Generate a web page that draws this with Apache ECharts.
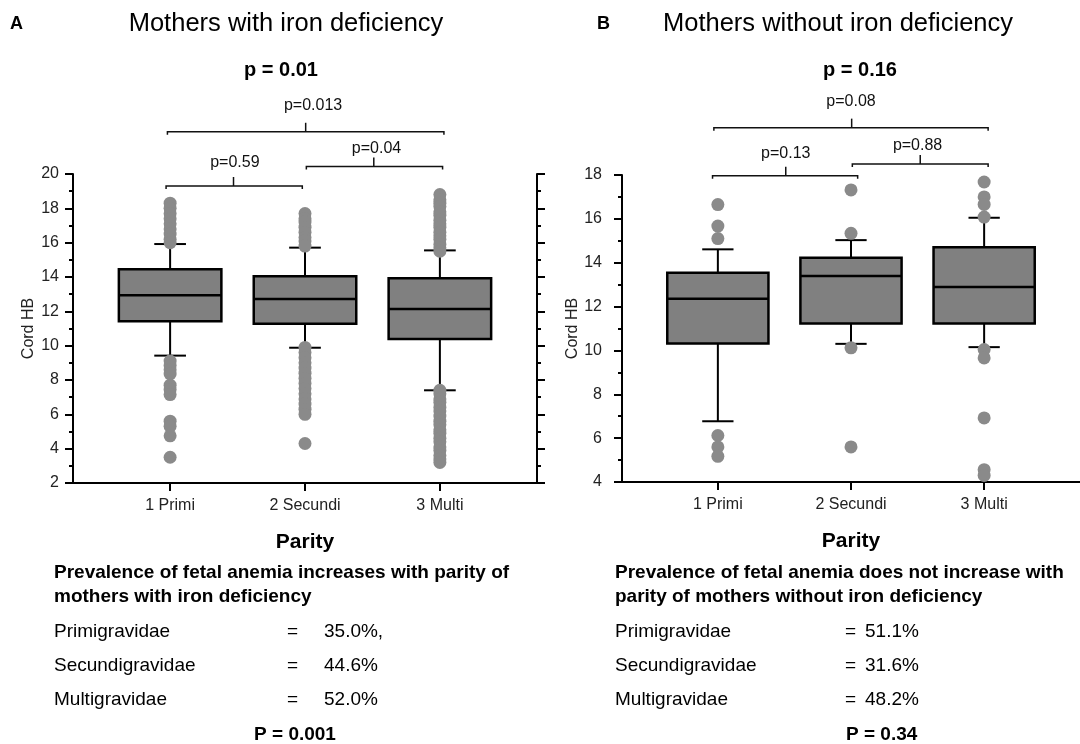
<!DOCTYPE html>
<html>
<head>
<meta charset="utf-8">
<script src="https://cdn.jsdelivr.net/npm/echarts@6/dist/echarts.min.js"></script>
<style>
html,body{margin:0;padding:0;background:#fff;}
#chart{width:1080px;height:744px;}
</style>
</head>
<body>
<div id="chart"></div>
<script>
// ---------------- data ----------------
const categories = ['1 Primi', '2 Secundi', '3 Multi'];

// box stats: [lowerWhisker, Q1, median, Q3, upperWhisker]
const boxesA = [
  [9.42, 11.42, 12.93, 14.45, 15.92],
  [9.88, 11.28, 12.72, 14.04, 15.71],
  [7.40, 10.39, 12.13, 13.92, 15.55]
];
const boxesB = [
  [6.77, 10.32, 12.36, 13.54, 14.61],
  [10.30, 11.23, 13.39, 14.23, 15.03],
  [10.15, 11.23, 12.89, 14.70, 16.05]
];

// outliers per category
const outliersA1 = [18.3, 18.0, 17.7, 17.4, 17.1, 16.8, 16.5, 16.2, 16.0, 9.1, 8.85, 8.6, 8.35, 7.7, 7.45, 7.15, 5.6, 5.3, 4.75, 3.5];
const outliersA2 = [17.7, 17.4, 17.2, 16.9, 16.6, 16.3, 16.1, 15.8, 9.9, 9.6, 9.3, 9.0, 8.7, 8.4, 8.1, 7.8, 7.5, 7.2, 6.9, 6.6, 6.3, 6.0, 4.3];
const outliersA3 = [18.8, 18.5, 18.3, 18.1, 17.8, 17.6, 17.3, 17.1, 16.9, 16.6, 16.4, 16.2, 15.9, 15.7, 15.5,
                    7.4, 7.2, 6.9, 6.7, 6.4, 6.2, 5.9, 5.6, 5.4, 5.1, 4.9, 4.6, 4.4, 4.1, 3.9, 3.6, 3.4, 3.2];
const outliersB1 = [16.65, 15.67, 15.1, 6.12, 5.6, 5.17];
const outliersB2 = [17.32, 15.34, 10.12, 5.6];
const outliersB3 = [17.68, 17.0, 16.66, 16.08, 10.04, 9.66, 6.92, 4.56, 4.3];

// y axis ranges / ticks
const yRangeA = [2, 20];
const yRangeB = [4, 18];
const yInterval = 2;

// comparison brackets: [x1, x2, xTick, xText, yLine, yText]
const bracketsA = [
  [0.98, 3.03, 2.005, 2.06, 22.46, 23.96],
  [0.97, 1.98, 1.47, 1.48, 19.30, 20.68],
  [2.01, 3.02, 2.51, 2.53, 20.43, 21.50]
];
const bracketLabelsA = ['p=0.013', 'p=0.59', 'p=0.04'];
const bracketsB = [
  [0.97, 3.03, 2.005, 2.0, 20.16, 21.34],
  [0.96, 2.05, 1.51, 1.51, 17.97, 18.96],
  [2.01, 3.03, 2.52, 2.50, 18.50, 19.34]
];
const bracketLabelsB = ['p=0.08', 'p=0.13', 'p=0.88'];

// texts
const panelLetters = ['A', 'B'];
const panelTitles = ['Mothers with iron deficiency', 'Mothers without iron deficiency'];
const overallP = ['p = 0.01', 'p = 0.16'];
const summaryHeadA = ['Prevalence of fetal anemia increases with parity of', 'mothers with iron deficiency'];
const summaryHeadB = ['Prevalence of fetal anemia does not increase with', 'parity of mothers without iron deficiency'];
const groupNames = ['Primigravidae', 'Secundigravidae', 'Multigravidae'];
const prevalenceA = ['35.0%,', '44.6%', '52.0%'];
const prevalenceB = ['51.1%', '31.6%', '48.2%'];
const summaryPA = 'P = 0.001';
const summaryPB = 'P = 0.34';

// ---------------- rendering ----------------
const FONT = '"Liberation Sans", Arial, Helvetica, sans-serif';
const BOX_W = 0.76;
const CAP_W = 0.235;

function renderBox(params, api) {
  const x = api.value(0);
  const lo = api.coord([x, api.value(1)]);
  const q1 = api.coord([x, api.value(2)]);
  const md = api.coord([x, api.value(3)]);
  const q3 = api.coord([x, api.value(4)]);
  const hi = api.coord([x, api.value(5)]);
  const bw = api.size([BOX_W, 0])[0];
  const cw = api.size([CAP_W, 0])[0];
  const cx = lo[0];
  const st = { stroke: '#000', lineWidth: 2, fill: null };
  return {
    type: 'group',
    children: [
      { type: 'line', shape: { x1: cx, y1: q1[1], x2: cx, y2: lo[1] }, style: st },
      { type: 'line', shape: { x1: cx, y1: q3[1], x2: cx, y2: hi[1] }, style: st },
      { type: 'line', shape: { x1: cx - cw / 2, y1: lo[1], x2: cx + cw / 2, y2: lo[1] }, style: st },
      { type: 'line', shape: { x1: cx - cw / 2, y1: hi[1], x2: cx + cw / 2, y2: hi[1] }, style: st },
      { type: 'rect', shape: { x: cx - bw / 2, y: q3[1], width: bw, height: q1[1] - q3[1] },
        style: { fill: '#808080', stroke: '#000', lineWidth: 2.5 } },
      { type: 'line', shape: { x1: cx - bw / 2, y1: md[1], x2: cx + bw / 2, y2: md[1] }, style: { stroke: '#000', lineWidth: 2.5 } }
    ]
  };
}

function makeBracketRenderer(labels) {
  return function (params, api) {
    const x1 = api.value(0), x2 = api.value(1), xt = api.value(2), xl = api.value(3);
    const yl = api.value(4), yt = api.value(5);
    const a = api.coord([x1, yl]);
    const b = api.coord([x2, yl]);
    const t = api.coord([xt, yl]);
    const tl = api.coord([xl, yt]);
    const st = { stroke: '#111', lineWidth: 1.5, fill: null };
    return {
      type: 'group',
      children: [
        { type: 'polyline', shape: { points: [[a[0], a[1] + 3], [a[0], a[1]], [b[0], b[1]], [b[0], b[1] + 3]] }, style: st },
        { type: 'line', shape: { x1: t[0], y1: t[1], x2: t[0], y2: t[1] - 9 }, style: st },
        { type: 'text', x: tl[0], y: tl[1],
          style: { text: labels[params.dataIndex], fill: '#111', font: '16px ' + FONT, align: 'center', verticalAlign: 'middle' } }
      ]
    };
  };
}

function boxData(boxes) {
  return boxes.map((b, i) => [i + 1].concat(b));
}
function outlierData(lists) {
  const out = [];
  lists.forEach((l, i) => l.forEach(v => out.push([i + 1, v])));
  return out;
}

function xAxisCfg(gridIndex) {
  return {
    type: 'value', gridIndex, min: 0.28, max: 3.72,
    name: 'Parity', nameLocation: 'middle', nameGap: 49,
    nameTextStyle: { fontFamily: FONT, fontSize: 21, fontWeight: 'bold', color: '#000' },
    axisLine: { show: true, lineStyle: { color: '#000', width: 2 } },
    axisTick: { show: true, customValues: [1, 2, 3], length: 8, lineStyle: { color: '#000', width: 2 } },
    axisLabel: { show: true, customValues: [1, 2, 3], margin: 15, fontFamily: FONT, fontSize: 16, color: '#222',
      formatter: v => categories[Math.round(v) - 1] || '' },
    splitLine: { show: false }
  };
}

function yAxisCfg(gridIndex, range, opts) {
  return Object.assign({
    type: 'value', gridIndex, min: range[0], max: range[1], interval: yInterval,
    name: 'Cord HB', nameLocation: 'middle', nameGap: 36,
    nameTextStyle: { fontFamily: FONT, fontSize: 16, color: '#222' },
    axisLine: { show: true, onZero: false, lineStyle: { color: '#000', width: 2 } },
    axisTick: { show: true, length: 8, lineStyle: { color: '#000', width: 2 } },
    minorTick: { show: true, splitNumber: 2, length: 4, lineStyle: { color: '#000', width: 2 } },
    axisLabel: { show: true, margin: 14, fontFamily: FONT, fontSize: 16, color: '#222' },
    splitLine: { show: false }
  }, opts || {});
}

const textStyleBase = { fontFamily: FONT, fill: '#000' };
function txt(x, y, text, size, weight, align) {
  return { type: 'text', x, y, style: Object.assign({}, textStyleBase, {
    text, fontSize: size, fontWeight: weight || 'normal', align: align || 'left', verticalAlign: 'middle' }) };
}

const graphics = [
  txt(10, 24, panelLetters[0], 18, 'bold'),
  txt(597, 24, panelLetters[1], 18, 'bold'),
  txt(286, 24, panelTitles[0], 25.5, 'normal', 'center'),
  txt(838, 24, panelTitles[1], 25.5, 'normal', 'center'),
  txt(281, 70, overallP[0], 20, 'bold', 'center'),
  txt(860, 70, overallP[1], 20, 'bold', 'center'),
  txt(54, 573, summaryHeadA[0], 19, 'bold'),
  txt(54, 597, summaryHeadA[1], 19, 'bold'),
  txt(615, 573, summaryHeadB[0], 19, 'bold'),
  txt(615, 597, summaryHeadB[1], 19, 'bold'),
  txt(295, 735, summaryPA, 19, 'bold', 'center'),
  txt(846, 735, summaryPB, 19, 'bold', 'left')
];
const rowY = [632, 666, 700];
groupNames.forEach((g, i) => {
  graphics.push(txt(54, rowY[i], g, 19));
  graphics.push(txt(287, rowY[i], '=', 19));
  graphics.push(txt(324, rowY[i], prevalenceA[i], 19));
  graphics.push(txt(615, rowY[i], g, 19));
  graphics.push(txt(845, rowY[i], '=', 19));
  graphics.push(txt(865, rowY[i], prevalenceB[i], 19));
});

const chart = echarts.init(document.getElementById('chart'), null, { renderer: 'canvas' });
chart.setOption({
  animation: false,
  backgroundColor: '#fff',
  textStyle: { fontFamily: FONT },
  grid: [
    { left: 73, top: 174, width: 464, height: 309 },
    { left: 622, top: 175, width: 462, height: 307 }
  ],
  xAxis: [xAxisCfg(0), xAxisCfg(1)],
  yAxis: [
    yAxisCfg(0, yRangeA),
    yAxisCfg(0, yRangeA, { position: 'right', name: '', axisLabel: { show: false } }),
    yAxisCfg(1, yRangeB, { axisLabel: { show: true, margin: 20, fontFamily: FONT, fontSize: 16, color: '#222' } })
  ],
  series: [
    { type: 'custom', xAxisIndex: 0, yAxisIndex: 0, renderItem: renderBox, encode: { x: 0, y: [1, 2, 3, 4, 5] }, data: boxData(boxesA), z: 2 },
    { type: 'scatter', xAxisIndex: 0, yAxisIndex: 0, data: outlierData([outliersA1, outliersA2, outliersA3]),
      symbolSize: 13, itemStyle: { color: '#8a8a8a', opacity: 1 }, z: 3 },
    { type: 'custom', xAxisIndex: 0, yAxisIndex: 0, renderItem: makeBracketRenderer(bracketLabelsA), clip: false,
      encode: { x: [0, 1], y: [4] }, data: bracketsA, z: 4 },
    { type: 'custom', xAxisIndex: 1, yAxisIndex: 2, renderItem: renderBox, encode: { x: 0, y: [1, 2, 3, 4, 5] }, data: boxData(boxesB), z: 2 },
    { type: 'scatter', xAxisIndex: 1, yAxisIndex: 2, data: outlierData([outliersB1, outliersB2, outliersB3]),
      symbolSize: 13, itemStyle: { color: '#8a8a8a', opacity: 1 }, z: 3 },
    { type: 'custom', xAxisIndex: 1, yAxisIndex: 2, renderItem: makeBracketRenderer(bracketLabelsB), clip: false,
      encode: { x: [0, 1], y: [4] }, data: bracketsB, z: 4 }
  ],
  graphic: graphics
});
</script>
</body>
</html>
